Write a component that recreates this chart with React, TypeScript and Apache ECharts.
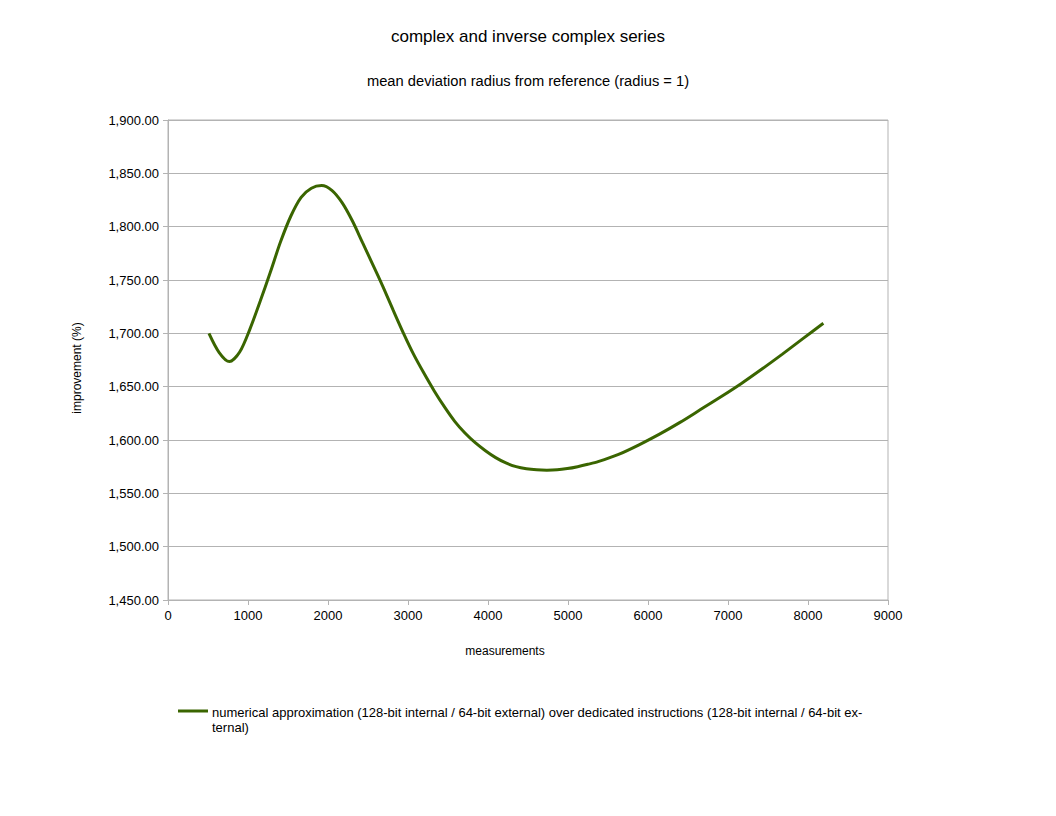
import React, { useEffect, useRef } from "react";
import * as echarts from "echarts";

const measurements = [
  512, 640, 768, 896, 1024, 1152, 1280, 1408, 1536, 1664, 1792, 1920, 2048,
  2176, 2304, 2432, 2560, 2688, 2816, 2944, 3072, 3200, 3328, 3456, 3584, 3712,
  3840, 3968, 4096, 4224, 4352, 4480, 4608, 4736, 4864, 4992, 5120, 5248, 5376,
  5632, 5888, 6144, 6400, 6656, 6912, 7168, 7424, 7680, 7936, 8192,
];
const improvement = [
  1700, 1682, 1673.5, 1682.5, 1704, 1730, 1757.5, 1786, 1810, 1827.5, 1836,
  1838.5, 1834, 1822.5, 1805.5, 1785, 1764.5, 1743.5, 1721.5, 1700, 1680,
  1662.5, 1646, 1631, 1617.5, 1606.5, 1597.5, 1590, 1583.5, 1578.5, 1575, 1573,
  1572, 1571.7, 1572, 1573.2, 1575, 1577.2, 1579.7, 1586.5, 1595.5, 1605.5,
  1616.5, 1628.5, 1640.5, 1653, 1666.5, 1680.5, 1695, 1709.5,
];
const xTicks = [0, 1000, 2000, 3000, 4000, 5000, 6000, 7000, 8000, 9000];
const yTicks = [1450, 1500, 1550, 1600, 1650, 1700, 1750, 1800, 1850, 1900];
const seriesName =
  "numerical approximation (128-bit internal / 64-bit external) over dedicated instructions (128-bit internal / 64-bit external)";
const legendLines = [
  "numerical approximation (128-bit internal / 64-bit external) over dedicated instructions (128-bit internal / 64-bit ex-",
  "ternal)",
];
const titleText = "complex and inverse complex series";
const subtitleText = "mean deviation radius from reference (radius = 1)";
const xAxisName = "measurements";
const yAxisName = "improvement (%)";

const FONT = "'Liberation Sans', Arial, sans-serif";
const GRID = "#b3b3b3";
const LINE = "#3a6500";

function fmt(v: number): string {
  const fixed = v.toFixed(2);
  const [ip, dp] = fixed.split(".");
  return ip.replace(/\B(?=(\d{3})+(?!\d))/g, ",") + "." + dp;
}

export default function App() {
  const ref = useRef<HTMLDivElement>(null);
  useEffect(() => {
    if (!ref.current) return;
    const chart = echarts.init(ref.current, null, { renderer: "svg" });
    chart.setOption({
      animation: false,
      backgroundColor: "#ffffff",
      textStyle: { fontFamily: FONT },
      title: [
        {
          text: titleText,
          left: "center",
          top: 23,
          textStyle: { fontSize: 17, fontWeight: "normal", color: "#000", fontFamily: FONT },
        },
        {
          text: subtitleText,
          left: "center",
          top: 68,
          textStyle: { fontSize: 14.7, fontWeight: "normal", color: "#000", fontFamily: FONT },
        },
      ],
      grid: {
        left: 168,
        top: 120,
        width: 720,
        height: 480,
        show: true,
        borderColor: GRID,
        borderWidth: 1,
        backgroundColor: "transparent",
      },
      xAxis: {
        type: "value",
        min: xTicks[0],
        max: xTicks[xTicks.length - 1],
        interval: xTicks[1] - xTicks[0],
        axisLine: { show: true, lineStyle: { color: GRID } },
        axisTick: { show: true, length: 5, lineStyle: { color: GRID } },
        splitLine: { show: false },
        axisLabel: {
          fontSize: 13,
          color: "#000",
          margin: 9,
          fontFamily: FONT,
          formatter: (v: number) => String(v),
        },
      },
      yAxis: {
        type: "value",
        min: yTicks[0],
        max: yTicks[yTicks.length - 1],
        interval: yTicks[1] - yTicks[0],
        axisLine: { show: true, lineStyle: { color: GRID } },
        axisTick: { show: true, length: 5, lineStyle: { color: GRID } },
        splitLine: { show: true, lineStyle: { color: GRID } },
        axisLabel: {
          fontSize: 13,
          color: "#000",
          margin: 9,
          fontFamily: FONT,
          formatter: (v: number) => fmt(v),
        },
      },
      series: [
        {
          name: seriesName,
          type: "line",
          smooth: 0.3,
          showSymbol: false,
          symbol: "none",
          lineStyle: { color: LINE, width: 3 },
          itemStyle: { color: LINE },
          data: measurements.map((m, i) => [m, improvement[i]]),
        },
      ],
      graphic: [
        {
          type: "text",
          x: 505,
          y: 651,
          style: {
            text: xAxisName,
            fontSize: 12,
            fontFamily: FONT,
            fill: "#000",
            align: "center",
            verticalAlign: "middle",
          },
        },
        {
          type: "text",
          x: 77,
          y: 368,
          rotation: Math.PI / 2,
          style: {
            text: yAxisName,
            fontSize: 12,
            fontFamily: FONT,
            fill: "#000",
            align: "center",
            verticalAlign: "middle",
          },
        },
        {
          type: "line",
          shape: { x1: 178, y1: 711, x2: 208, y2: 711 },
          style: { stroke: LINE, lineWidth: 3 },
        },
        {
          type: "text",
          x: 212,
          y: 705,
          style: {
            text: legendLines.join("\n"),
            fontSize: 13,
            lineHeight: 15,
            fontFamily: FONT,
            fill: "#000",
            align: "left",
            verticalAlign: "top",
          },
        },
      ],
    });
    return () => chart.dispose();
  }, []);
  return (
    <div
      ref={ref}
      style={{ position: "fixed", left: 0, top: 0, width: 1056, height: 816 }}
    />
  );
}
